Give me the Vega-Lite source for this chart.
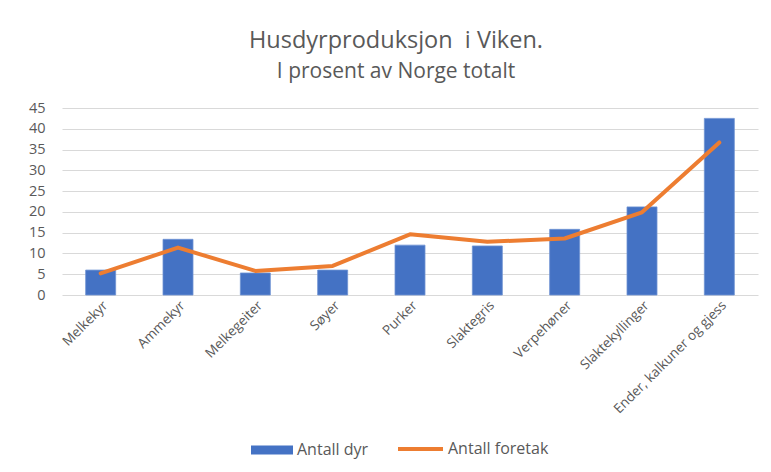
{
  "$schema": "https://vega.github.io/schema/vega-lite/v6.json",
  "width": 696,
  "height": 187,
  "autosize": {"type": "none"},
  "padding": {"left": 62, "top": 108, "right": 13, "bottom": 177},
  "background": "white",
  "title": {
    "text": "Husdyrproduksjon\u00a0 i Viken.",
    "subtitle": "I prosent av Norge totalt",
    "anchor": "middle",
    "dx": -14,
    "offset": 18,
    "font": "Open Sans",
    "fontSize": 23.5,
    "fontWeight": "normal",
    "color": "#595959",
    "subtitleFont": "Open Sans",
    "subtitleFontSize": 21,
    "subtitleColor": "#595959",
    "subtitlePadding": 9
  },
  "data": {
    "values": [
      {"kategori": "Melkekyr", "serie": "Antall dyr", "verdi": 6.0},
      {"kategori": "Ammekyr", "serie": "Antall dyr", "verdi": 13.4},
      {"kategori": "Melkegeiter", "serie": "Antall dyr", "verdi": 5.3},
      {"kategori": "Søyer", "serie": "Antall dyr", "verdi": 6.0},
      {"kategori": "Purker", "serie": "Antall dyr", "verdi": 12.0},
      {"kategori": "Slaktegris", "serie": "Antall dyr", "verdi": 11.8},
      {"kategori": "Verpehøner", "serie": "Antall dyr", "verdi": 15.8},
      {"kategori": "Slaktekyllinger", "serie": "Antall dyr", "verdi": 21.2},
      {"kategori": "Ender, kalkuner og gjess", "serie": "Antall dyr", "verdi": 42.5},
      {"kategori": "Melkekyr", "serie": "Antall foretak", "verdi": 5.2},
      {"kategori": "Ammekyr", "serie": "Antall foretak", "verdi": 11.4},
      {"kategori": "Melkegeiter", "serie": "Antall foretak", "verdi": 5.8},
      {"kategori": "Søyer", "serie": "Antall foretak", "verdi": 7.0},
      {"kategori": "Purker", "serie": "Antall foretak", "verdi": 14.6},
      {"kategori": "Slaktegris", "serie": "Antall foretak", "verdi": 12.8},
      {"kategori": "Verpehøner", "serie": "Antall foretak", "verdi": 13.6},
      {"kategori": "Slaktekyllinger", "serie": "Antall foretak", "verdi": 19.9},
      {"kategori": "Ender, kalkuner og gjess", "serie": "Antall foretak", "verdi": 36.7}
    ]
  },
  "encoding": {
    "x": {
      "field": "kategori",
      "type": "nominal",
      "sort": null,
      "title": null,
      "scale": {"paddingInner": 0, "paddingOuter": 0},
      "axis": {
        "labelAngle": -45,
        "labelFont": "Open Sans",
        "labelFontSize": 13.5,
        "labelColor": "#595959",
        "ticks": false,
        "domain": false,
        "grid": false,
        "labelPadding": 3
      }
    },
    "y": {
      "field": "verdi",
      "type": "quantitative",
      "title": null,
      "scale": {"domain": [0, 45], "nice": false},
      "axis": {
        "values": [0, 5, 10, 15, 20, 25, 30, 35, 40, 45],
        "labelFont": "Open Sans",
        "labelFontSize": 14.5,
        "labelColor": "#595959",
        "ticks": false,
        "domain": false,
        "gridColor": "#d9d9d9",
        "gridWidth": 1,
        "labelPadding": 17
      }
    }
  },
  "layer": [
    {
      "transform": [{"filter": "datum.serie === 'Antall dyr'"}],
      "mark": {"type": "bar", "width": 30, "stroke": "#6f93d3", "strokeWidth": 0.8},
      "encoding": {
        "fill": {
          "field": "serie",
          "type": "nominal",
          "scale": {"domain": ["Antall dyr"], "range": ["#4472C4"]},
          "legend": {
            "title": null,
            "orient": "none",
            "legendX": 189,
            "legendY": 321,
            "padding": 0,
            "symbolType": "M-1,-0.21H1V0.21H-1Z",
            "symbolSize": 1764,
            "symbolStrokeWidth": 0,
            "symbolOpacity": 1,
            "labelFont": "Open Sans",
            "labelFontSize": 16,
            "labelColor": "#595959",
            "labelOffset": 4
          }
        }
      }
    },
    {
      "transform": [{"filter": "datum.serie === 'Antall foretak'"}],
      "mark": {"type": "line", "strokeWidth": 4, "strokeCap": "round", "strokeJoin": "round"},
      "encoding": {
        "stroke": {
          "field": "serie",
          "type": "nominal",
          "scale": {"domain": ["Antall foretak"], "range": ["#ED7D31"]},
          "legend": {
            "title": null,
            "orient": "none",
            "legendX": 334,
            "legendY": 316.5,
            "padding": 0,
            "symbolType": "stroke",
            "symbolSize": 2025,
            "symbolStrokeWidth": 4,
            "labelFont": "Open Sans",
            "labelFontSize": 16,
            "labelColor": "#595959",
            "labelOffset": 3
          }
        }
      }
    }
  ],
  "config": {
    "view": {"stroke": null}
  }
}
